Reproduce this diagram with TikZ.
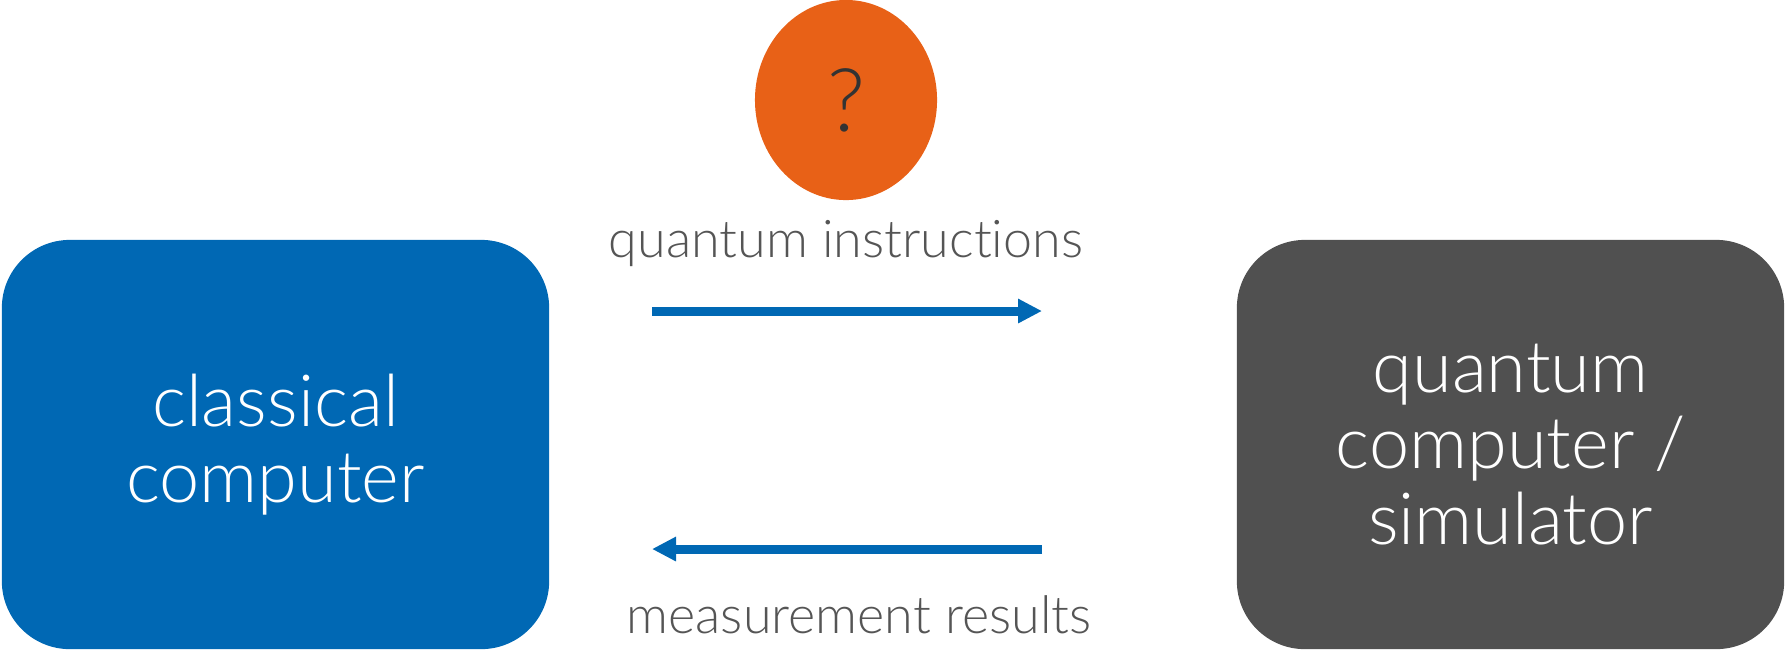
\documentclass[tikz,border=0pt]{standalone}
\usepackage{fontspec}
\setmainfont{Lato Light}[Ligatures={NoCommon}]
\usepackage{tikz}
\usetikzlibrary{arrows.meta,positioning,shapes.geometric}
\definecolor{classicblue}{RGB}{0,104,180}
\definecolor{quantumgray}{RGB}{80,80,80}
\definecolor{unknownorange}{RGB}{232,97,23}
\definecolor{labelgray}{RGB}{85,85,85}

\begin{document}
\begin{tikzpicture}[x=0.01cm, y=-0.01cm, >={Triangle[width=0.23cm,length=0.24cm]}]
\tikzset{
  machine/.style={rounded corners=0.68cm, minimum width=5.47cm, minimum height=4.09cm, align=center, text=white, font=\fontsize{20.5}{21.5}\selectfont},
  link/.style={->, line width=0.09cm, classicblue},
  linklabel/.style={text=labelgray, font=\fontsize{14.8}{16}\selectfont}
}
\useasboundingbox (0,0) rectangle (1786,650);
\node[machine, fill=classicblue] (classical) at (275.5,444.5) {classical\\computer};
\node[machine, fill=quantumgray] (quantum) at (1510.5,444.5) {quantum\\computer /\\simulator};
\node[ellipse, fill=unknownorange, minimum width=1.82cm, minimum height=2cm, inner sep=0pt,
  font=\fontsize{25}{25}\selectfont, text=black!80] (unknown) at (846,100) {?};

\coordinate (send-from) at (652,311);
\coordinate (send-to) at (1042,311);
\coordinate (back-from) at (1042,549);
\coordinate (back-to) at (652,549);

\draw[link] (send-from) -- (send-to);
\draw[link] (back-from) -- (back-to);
\node[linklabel] (instr) at (846,243) {quantum instructions};
\node[linklabel] (results) at (859,615) {measurement results};
\end{tikzpicture}
\end{document}
